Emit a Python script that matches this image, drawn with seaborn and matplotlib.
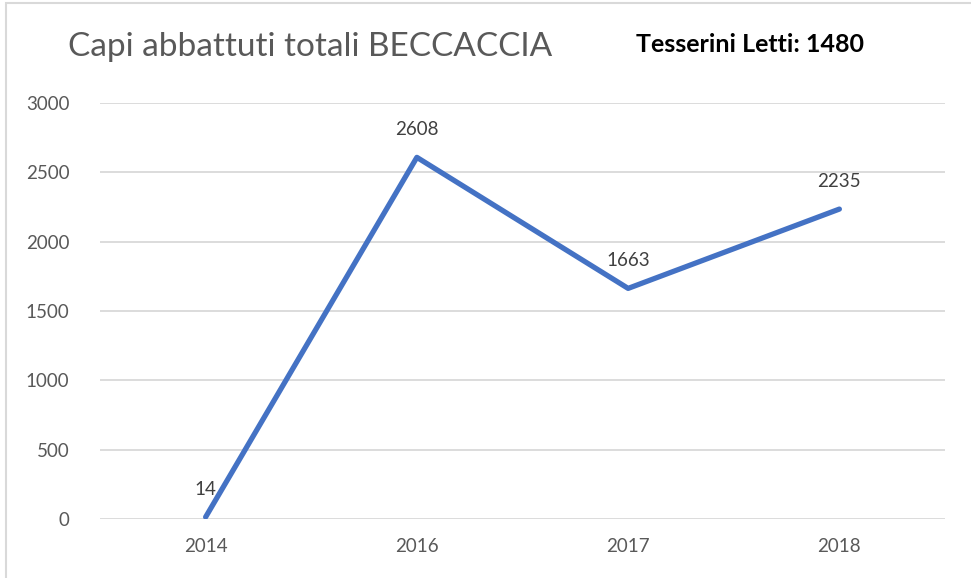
import matplotlib
matplotlib.use("Agg")
import matplotlib.pyplot as plt
import seaborn as sns
import pandas as pd
from matplotlib.patches import Rectangle

years = ["2014", "2016", "2017", "2018"]
values = [14, 2608, 1663, 2235]
title = "Capi abbattuti totali BECCACCIA"
note = "Tesserini Letti: 1480"
yticks = [0, 500, 1000, 1500, 2000, 2500, 3000]

sns.set_theme(style="white")
plt.rcParams["font.family"] = ["Lato", "DejaVu Sans"]

df = pd.DataFrame({"anno": years, "capi": values})

fig = plt.figure(figsize=(9.71, 5.78), dpi=100)
ax = fig.add_axes([100/971, 1-519/578, 845/971, 416/578])

sns.lineplot(data=df, x="anno", y="capi", ax=ax, color="#4472C4",
             linewidth=3.8, sort=False, solid_capstyle="round", zorder=3)

ax.set_ylim(0, 3000)
ax.set_xlim(-0.5, len(years) - 0.5)
ax.set_yticks(yticks)
ax.set_yticklabels([str(t) for t in yticks])
ax.yaxis.grid(True, color="#D9D9D9", linewidth=1.3, zorder=0)
ax.xaxis.grid(False)
for s in ax.spines.values():
    s.set_visible(False)
ax.tick_params(axis="both", length=0, labelsize=13.5, labelcolor="#595959")
ax.tick_params(axis="y", pad=22)
ax.tick_params(axis="x", pad=14)
ax.set_xlabel("")
ax.set_ylabel("")

for i, v in enumerate(values):
    ax.annotate(str(v), (i, v), xytext=(0, 14), textcoords="offset points",
                ha="center", va="bottom", fontsize=13.5, color="#404040")

fig.text(68/971, 1-47/578, title, fontsize=24, color="#595959",
         ha="left", va="center")
fig.text(636/971, 1-45/578, note, fontsize=18, color="black",
         ha="left", va="center", fontweight="bold")

fig.patches.append(Rectangle((6/971, -0.1), 1.2, 1 - 3/578 + 0.1,
                             transform=fig.transFigure, fill=False,
                             edgecolor="#D9D9D9", linewidth=1.5))

fig.savefig("out.png", dpi=100)
